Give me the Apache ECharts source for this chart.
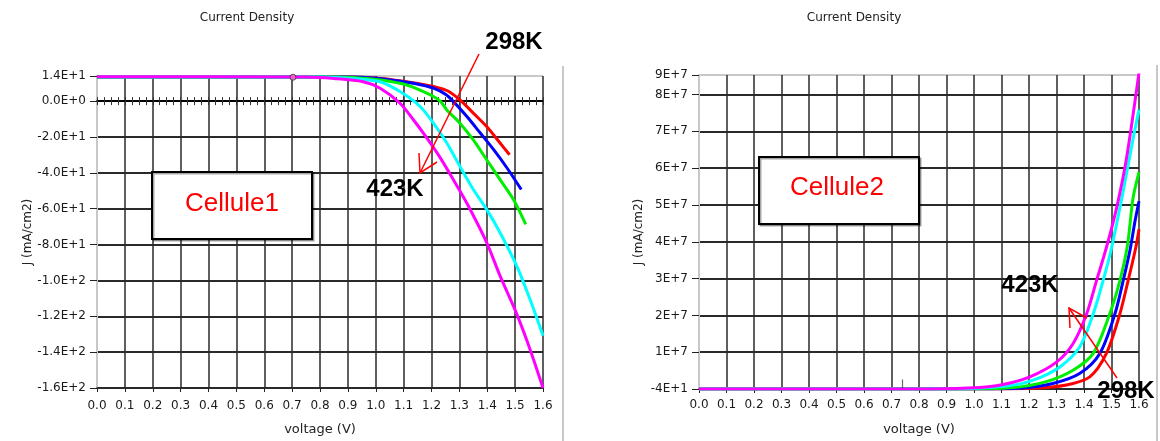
<!DOCTYPE html>
<html>
<head>
<meta charset="utf-8">
<script src="https://cdn.jsdelivr.net/npm/echarts@6/dist/echarts.min.js"></script>
<style>
  html, body { margin: 0; padding: 0; background: #fff; }
  #chart { width: 1160px; height: 441px; }
</style>
</head>
<body>
<div id="chart"></div>
<script>
// ---------- Cellule1 : J-V curves, [voltage (V), J (mA/cm2)] ----------
const cell1T1 = [[0, 13.5], [0.9, 13.4], [1.0, 12.9], [1.05, 12.1], [1.111, 10.8], [1.16, 9.6], [1.207, 8.1], [1.255, 5.9], [1.302, 0.7], [1.35, -6.7], [1.398, -14.2], [1.446, -23.4], [1.48, -29.9]];
const cell1T2 = [[0, 13.5], [0.9, 13.4], [1.0, 12.7], [1.111, 10.5], [1.16, 9.1], [1.207, 7.2], [1.25, 3.8], [1.279, -0.3], [1.327, -8.6], [1.375, -17.8], [1.423, -27.1], [1.471, -37.3], [1.522, -49.3]];
const cell1T3 = [[0, 13.5], [0.85, 13.4], [0.95, 12.8], [1.016, 11.8], [1.111, 9.0], [1.183, 4.4], [1.231, 0.0], [1.255, -4.9], [1.302, -12.3], [1.35, -21.6], [1.398, -32.7], [1.446, -43.8], [1.494, -54.9], [1.538, -68.8]];
const cell1T4 = [[0, 13.5], [0.8, 13.4], [0.9, 12.8], [0.95, 12.2], [1.016, 10.8], [1.087, 5.3], [1.159, -3.0], [1.207, -12.3], [1.255, -23.4], [1.302, -36.4], [1.35, -49.3], [1.398, -60.4], [1.446, -73.4], [1.506, -92.0], [1.553, -110.4], [1.6, -130.8]];
const cell1T5 = [[0, 13.6], [0.75, 13.4], [0.85, 12.6], [0.955, 10.8], [1.016, 7.2], [1.087, -1.2], [1.135, -10.4], [1.183, -20.5], [1.231, -31.5], [1.279, -44.0], [1.327, -57.0], [1.398, -78.9], [1.446, -97.5], [1.506, -118.8], [1.553, -138.2], [1.6, -160]];

// ---------- Cellule2 : J-V curves, [voltage (V), J (mA/cm2)] ----------
const cell2T1 = [[0, -40], [1.0, -40], [1.215, 0.02e7], [1.336, 0.11e7], [1.421, 0.33e7], [1.481, 0.96e7], [1.53, 2.03e7], [1.56, 2.93e7], [1.588, 3.83e7], [1.6, 4.34e7]];
const cell2T2 = [[0, -40], [0.95, -40], [1.178, 0.03e7], [1.287, 0.15e7], [1.384, 0.42e7], [1.457, 0.96e7], [1.512, 2.03e7], [1.542, 2.93e7], [1.568, 3.8e7], [1.585, 4.54e7], [1.6, 5.1e7]];
const cell2T3 = [[0, -40], [0.95, -40], [1.142, 0.04e7], [1.263, 0.2e7], [1.36, 0.51e7], [1.433, 0.96e7], [1.493, 2.03e7], [1.53, 2.93e7], [1.558, 3.9e7], [1.578, 5.17e7], [1.6, 5.89e7]];
const cell2T4 = [[0, -40], [0.9, -40], [1.118, 0.08e7], [1.215, 0.24e7], [1.312, 0.6e7], [1.384, 1.14e7], [1.433, 2.03e7], [1.469, 2.93e7], [1.5, 3.83e7], [1.542, 5.35e7], [1.578, 6.78e7], [1.6, 7.59e7]];
const cell2T5 = [[0, -40], [0.85, -40], [1.021, 0.04e7], [1.106, 0.12e7], [1.203, 0.33e7], [1.3, 0.73e7], [1.36, 1.23e7], [1.409, 2.03e7], [1.445, 2.93e7], [1.481, 3.83e7], [1.518, 4.9e7], [1.554, 6.24e7], [1.6, 8.6e7]];

// curve colours, lowest to highest temperature
const curveColors = ['#ff0000', '#0000ff', '#00ee00', '#00ffff', '#ff00ff'];
const curveNames = ['298K', 'T2', 'T3', 'T4', '423K'];

// axis ranges
const voltMin = 0, voltMax = 1.6, voltStep = 0.1;
const j1Min = -160, j1Max = 14, j1Step = 20;
const j2Min = -40, j2Max = 8.53e7, j2Step = 1e7;
const zeroTickStep = 0.025;

// cursor markers sitting on the curves
const cursor1 = [[0.703, 13.3]];
const cursor2 = [[0.74, -40]];

const FONT = 'DejaVu Sans';
const GRID_DARK = '#2a2a2a';
const GRID_LIGHT = '#c8c8c8';

function splitColors(n, lightIndex) {
  const arr = [];
  for (let i = 0; i < n; i++) arr.push(i === lightIndex ? GRID_LIGHT : GRID_DARK);
  return arr;
}

const nVoltLines = Math.round((voltMax - voltMin) / voltStep) + 1;

function voltAxis(gridIndex, labelMargin, nameGap) {
  return {
    type: 'value', gridIndex, min: voltMin, max: voltMax, interval: voltStep,
    position: 'bottom',
    name: 'voltage (V)', nameLocation: 'middle', nameGap,
    nameTextStyle: { fontFamily: FONT, fontSize: 13, color: '#222' },
    axisLine: { onZero: false, lineStyle: { color: GRID_DARK, width: 1.5 } },
    axisTick: { show: true, length: 4, lineStyle: { color: '#222', width: 1 } },
    axisLabel: { margin: labelMargin, fontFamily: FONT, fontSize: 12, color: '#1a1a1a',
      formatter: v => v.toFixed(1) },
    splitLine: { show: true, lineStyle: { color: splitColors(nVoltLines, 0), width: 1.5 } }
  };
}

function zeroTickAxis(position) {
  return {
    type: 'value', gridIndex: 0, min: voltMin, max: voltMax, interval: zeroTickStep,
    position,
    axisLine: { show: true, onZero: true, onZeroAxisIndex: 0, lineStyle: { color: '#000', width: 1.5 } },
    axisTick: { show: true, length: 4, lineStyle: { color: '#333', width: 1 } },
    axisLabel: { show: false },
    splitLine: { show: false }
  };
}

function jAxis(gridIndex, min, max, step, digits, nameGap) {
  const nLines = Math.floor((max - min) / step + 1e-9) + 2;
  return {
    type: 'value', gridIndex, min, max, interval: step,
    name: 'J (mA/cm2)', nameLocation: 'middle', nameGap,
    nameTextStyle: { fontFamily: FONT, fontSize: 12, color: '#222' },
    axisLine: { show: true, onZero: false, lineStyle: { color: GRID_LIGHT, width: 2 } },
    axisTick: { show: true, length: 7, lineStyle: { color: '#222', width: 1 } },
    axisLabel: { margin: 11, fontFamily: FONT, fontSize: 12, color: '#1a1a1a',
      formatter: v => v.toExponential(digits).toUpperCase() },
    splitLine: { show: true, lineStyle: { color: splitColors(nLines, nLines - 1), width: 1.8 } }
  };
}

function curve(name, data, color, xi, yi) {
  return {
    type: 'line', name, data, xAxisIndex: xi, yAxisIndex: yi,
    showSymbol: false, smooth: 0.3, clip: true,
    lineStyle: { color, width: 3 }, itemStyle: { color }, z: 3
  };
}

const cell1 = [cell1T1, cell1T2, cell1T3, cell1T4, cell1T5];
const cell2 = [cell2T1, cell2T2, cell2T3, cell2T4, cell2T5];

const series = [];
cell1.forEach((d, i) => series.push(curve(curveNames[i], d, curveColors[i], 0, 0)));
cell2.forEach((d, i) => series.push(curve(curveNames[i], d, curveColors[i], 3, 1)));
series.push({
  type: 'scatter', data: cursor1, xAxisIndex: 0, yAxisIndex: 0, symbol: 'circle', symbolSize: 6,
  itemStyle: { color: '#ff66cc', borderColor: '#333', borderWidth: 1 }, z: 5
});
series.push({
  type: 'scatter', data: cursor2, xAxisIndex: 3, yAxisIndex: 1, symbol: 'rect', symbolSize: [1.2, 9],
  symbolOffset: [0, -5], itemStyle: { color: '#444' }, z: 5
});

function textEl(text, x, y, font, color) {
  return { type: 'text', x, y, z: 10,
    style: { text, font, fill: color, align: 'center', verticalAlign: 'middle' } };
}
function boxEl(x, y, w, h) {
  return { type: 'rect', z: 9, shape: { x, y, width: w, height: h },
    style: { fill: '#fff', stroke: '#000', lineWidth: 2,
      shadowColor: 'rgba(0,0,0,0.35)', shadowOffsetX: 1.5, shadowOffsetY: 1.5 } };
}
function arrowEl(x1, y1, x2, y2, w1, w2) {
  return [
    { type: 'line', z: 11, shape: { x1, y1, x2, y2 }, style: { stroke: '#ff0000', lineWidth: 1.5 } },
    { type: 'polyline', z: 11, shape: { points: [w1, [x2, y2], w2] }, style: { stroke: '#ff0000', lineWidth: 1.5, fill: null } }
  ];
}

const option = {
  backgroundColor: '#fff',
  animation: false,
  grid: [
    { left: 97, right: 617, top: 76, bottom: 51 },
    { left: 699, right: 21, top: 75, bottom: 49 }
  ],
  xAxis: [
    voltAxis(0, 12, 35),
    zeroTickAxis('bottom'),
    zeroTickAxis('top'),
    voltAxis(1, 10, 34)
  ],
  yAxis: [
    jAxis(0, j1Min, j1Max, j1Step, 1, 61),
    jAxis(1, j2Min, j2Max, j2Step, 0, 54)
  ],
  series,
  graphic: [
    textEl('Current Density', 247, 18, '12px "DejaVu Sans"', '#222'),
    textEl('Current Density', 854, 18, '12px "DejaVu Sans"', '#222'),
    { type: 'line', z: 1, shape: { x1: 563, y1: 66, x2: 563, y2: 441 }, style: { stroke: GRID_LIGHT, lineWidth: 2 } },
    { type: 'line', z: 1, shape: { x1: 1157, y1: 65, x2: 1157, y2: 441 }, style: { stroke: GRID_LIGHT, lineWidth: 2 } },
    boxEl(152, 172, 160, 67),
    textEl('Cellule1', 232, 204, '26px "Liberation Sans"', '#ff0000'),
    boxEl(759, 157, 160, 67),
    textEl('Cellule2', 837, 188, '26px "Liberation Sans"', '#ff0000'),
    textEl('298K', 514, 42, 'bold 24px "Liberation Sans"', '#000'),
    textEl('423K', 395, 189, 'bold 24px "Liberation Sans"', '#000'),
    textEl('423K', 1030, 285, 'bold 24px "Liberation Sans"', '#000'),
    textEl('298K', 1126, 391, 'bold 24px "Liberation Sans"', '#000'),
    ...arrowEl(479, 54, 420, 173, [419, 153], [437, 162]),
    ...arrowEl(1117, 378, 1069, 308, [1070, 328], [1087, 318])
  ]
};

const chart = echarts.init(document.getElementById('chart'), null, { renderer: 'canvas' });
chart.setOption(option);
</script>
</body>
</html>
